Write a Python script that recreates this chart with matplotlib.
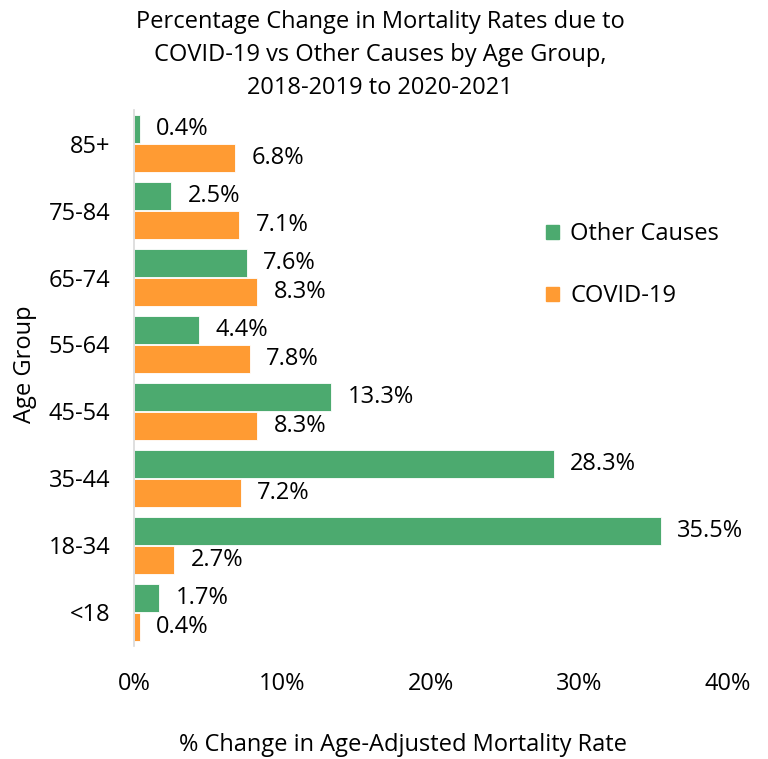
import numpy as np
import matplotlib.pyplot as plt
from matplotlib.patches import Patch

plt.rcParams['font.family'] = ['Open Sans', 'DejaVu Sans']

age_groups = ['<18', '18-34', '35-44', '45-54', '55-64', '65-74', '75-84', '85+']
other_causes = [1.7, 35.5, 28.3, 13.3, 4.4, 7.6, 2.5, 0.4]
covid = [0.4, 2.7, 7.2, 8.3, 7.8, 8.3, 7.1, 6.8]

green = '#4CAA6F'
orange = '#FF9B33'
fs = 17

fig = plt.figure(figsize=(7.68, 7.59), dpi=100)
ax = fig.add_axes([0.1745, 0.149, 0.7725, 0.706])

y = np.arange(len(age_groups))
h = 0.42
ax.barh(y + 0.22, other_causes, height=h, color=green, edgecolor='white', linewidth=0.6)
ax.barh(y - 0.22, covid, height=h, color=orange, edgecolor='white', linewidth=0.6)

for yi, v in zip(y, other_causes):
    ax.text(v + 1.1, yi + 0.22, f'{v:.1f}%', va='center', ha='left', fontsize=fs)
for yi, v in zip(y, covid):
    ax.text(v + 1.1, yi - 0.22, f'{v:.1f}%', va='center', ha='left', fontsize=fs)

ax.set_xlim(0, 40)
ax.set_ylim(-0.5, 7.5)
ax.set_xticks([0, 10, 20, 30, 40])
ax.set_xticklabels(['0%', '10%', '20%', '30%', '40%'], fontsize=fs)
ax.set_yticks(y)
ax.set_yticklabels(age_groups, fontsize=fs)
ax.tick_params(axis='x', length=0, pad=19)
ax.tick_params(axis='y', length=0, pad=17)
for s in ['top', 'right', 'bottom']:
    ax.spines[s].set_visible(False)
ax.spines['left'].set_color('#D9D9D9')
ax.spines['left'].set_linewidth(1.2)

handles = [Patch(color=green, label='Other Causes'), Patch(color=orange, label='COVID-19')]
ax.legend(handles=handles, loc='upper left', bbox_to_anchor=(0.658, 0.83), frameon=False,
          fontsize=fs, handlelength=0.55, handleheight=0.55, handletextpad=0.5, labelspacing=1.6)

fig.text(0.495, 0.987, 'Percentage Change in Mortality Rates due to\nCOVID-19 vs Other Causes by Age Group,\n2018-2019 to 2020-2021',
         ha='center', va='top', fontsize=fs, linespacing=1.5)
fig.text(0.525, 0.002, '% Change in Age-Adjusted Mortality Rate', ha='center', va='bottom', fontsize=fs)
fig.text(0.033, 0.52, 'Age Group', rotation=90, ha='center', va='center', fontsize=fs)

fig.savefig('out.png', dpi=100)
